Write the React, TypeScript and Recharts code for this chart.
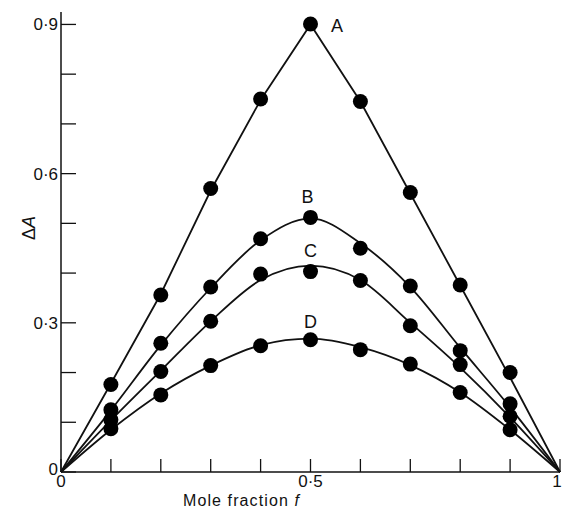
import { ComposedChart, Line, Scatter, XAxis, YAxis, ReferenceDot } from 'recharts'

const pointX = [0.1, 0.2, 0.3, 0.4, 0.5, 0.6, 0.7, 0.8, 0.9]
const dotsA = [0.176, 0.356, 0.57, 0.75, 0.901, 0.745, 0.562, 0.376, 0.2]
const dotsB = [0.125, 0.259, 0.372, 0.469, 0.512, 0.45, 0.374, 0.244, 0.137]
const dotsC = [0.105, 0.202, 0.303, 0.398, 0.403, 0.385, 0.294, 0.216, 0.112]
const dotsD = [0.087, 0.155, 0.214, 0.254, 0.266, 0.246, 0.217, 0.16, 0.085]

// fitted curves
const curveX = [0, 0.1, 0.2, 0.3, 0.4, 0.5, 0.6, 0.7, 0.8, 0.9, 1]
const curveA = [0, 0.178, 0.358, 0.566, 0.748, 0.9, 0.745, 0.56, 0.375, 0.19, 0]
const curveB = [0, 0.124, 0.255, 0.37, 0.466, 0.51, 0.46, 0.372, 0.25, 0.13, 0]
const curveC = [0, 0.104, 0.204, 0.303, 0.386, 0.415, 0.386, 0.3, 0.21, 0.11, 0]
const curveD = [0, 0.085, 0.158, 0.214, 0.255, 0.268, 0.251, 0.215, 0.16, 0.085, 0]

const xTicks = [0, 0.1, 0.2, 0.3, 0.4, 0.5, 0.6, 0.7, 0.8, 0.9, 1]
const xTickLabels: Record<string, string> = { '0': '0', '0.5': '0·5', '1': '1' }
const yTicks = [0, 0.1, 0.2, 0.3, 0.4, 0.5, 0.6, 0.7, 0.8, 0.9]
const yTickLabels: Record<string, string> = { '0': '0', '0.3': '0·3', '0.6': '0·6', '0.9': '0·9' }

const curveLabels = [
  { name: 'A', x: 0.553, y: 0.898 },
  { name: 'B', x: 0.494, y: 0.553 },
  { name: 'C', x: 0.5, y: 0.446 },
  { name: 'D', x: 0.5, y: 0.303 },
]

const toPoints = (xs: number[], ys: number[]) => xs.map((x, i) => ({ x, y: ys[i] }))

const font = '"Liberation Sans", Arial, sans-serif'
const ink = '#111'

const XTick = (props: any) => {
  const { x, y, payload } = props
  const label = xTickLabels[String(payload.value)]
  // the "1" sits right on the page edge
  const tx = payload.value === 1 ? Math.min(x, 557) : x
  return (
    <g>
      <line x1={x} y1={y} x2={x} y2={y - 13} stroke={ink} strokeWidth={1.3} />
      {label && (
        <text x={tx} y={y + 15} textAnchor="middle" fontSize={17} fill={ink} fontFamily={font}>
          {label}
        </text>
      )}
    </g>
  )
}

const YTick = (props: any) => {
  const { x, y, payload } = props
  const label = yTickLabels[String(payload.value)]
  return (
    <g>
      <line x1={x} y1={y} x2={x + 15} y2={y} stroke={ink} strokeWidth={1.3} />
      {label && (
        <text
          x={x - 3}
          y={payload.value === 0 ? y + 3 : y + 6}
          textAnchor="end"
          fontSize={17}
          fill={ink}
          fontFamily={font}
        >
          {label}
        </text>
      )}
    </g>
  )
}

const dotShape = (props: any) => <circle cx={props.cx} cy={props.cy} r={7.5} fill="#000" />

export default function App() {
  const curves = [curveA, curveB, curveC, curveD]
  const dots = [dotsA, dotsB, dotsC, dotsD]

  return (
    <div style={{ position: 'absolute', left: 0, top: 0, width: 563, height: 509, background: '#fff' }}>
      <ComposedChart width={563} height={509} margin={{ top: 12, right: 3, left: 0, bottom: 0 }}>
        <XAxis
          type="number"
          dataKey="x"
          domain={[0, 1]}
          ticks={xTicks}
          interval={0}
          tickSize={0}
          tickMargin={0}
          tick={<XTick />}
          height={37}
          axisLine={{ stroke: ink, strokeWidth: 1.5 }}
          label={{
            content: (p: any) => (
              <text
                x={p.viewBox.x + 122}
                y={p.viewBox.y + 34}
                fontSize={16}
                fill={ink}
                fontFamily={font}
                letterSpacing={1.1}
              >
                Mole fraction <tspan fontStyle="italic">f</tspan>
              </text>
            ),
          }}
        />
        <YAxis
          type="number"
          dataKey="y"
          domain={[0, 0.925]}
          ticks={yTicks}
          interval={0}
          tickSize={0}
          tickMargin={0}
          tick={<YTick />}
          width={61}
          axisLine={{ stroke: ink, strokeWidth: 1.5 }}
          label={{
            content: () => {
              const cx = 35
              const cy = 228
              return (
                <text
                  x={cx}
                  y={cy}
                  transform={`rotate(-90 ${cx} ${cy})`}
                  textAnchor="middle"
                  fontSize={18}
                  fill={ink}
                  fontFamily={font}
                >
                  Δ<tspan fontStyle="italic">A</tspan>
                </text>
              )
            },
          }}
        />
        {curves.map((c, i) => (
          <Line
            key={'curve' + i}
            data={toPoints(curveX, c)}
            dataKey="y"
            type={i === 0 ? 'linear' : 'monotone'}
            stroke={ink}
            strokeWidth={1.8}
            dot={false}
            activeDot={false}
            isAnimationActive={false}
          />
        ))}
        {dots.map((d, i) => (
          <Scatter
            key={'dots' + i}
            data={toPoints(pointX, d)}
            dataKey="y"
            shape={dotShape}
            isAnimationActive={false}
          />
        ))}
        {curveLabels.map((l) => (
          <ReferenceDot
            key={l.name}
            x={l.x}
            y={l.y}
            r={0}
            stroke="none"
            label={{ value: l.name, position: 'center', fontSize: 18, fill: ink, fontFamily: font }}
          />
        ))}
      </ComposedChart>
    </div>
  )
}
